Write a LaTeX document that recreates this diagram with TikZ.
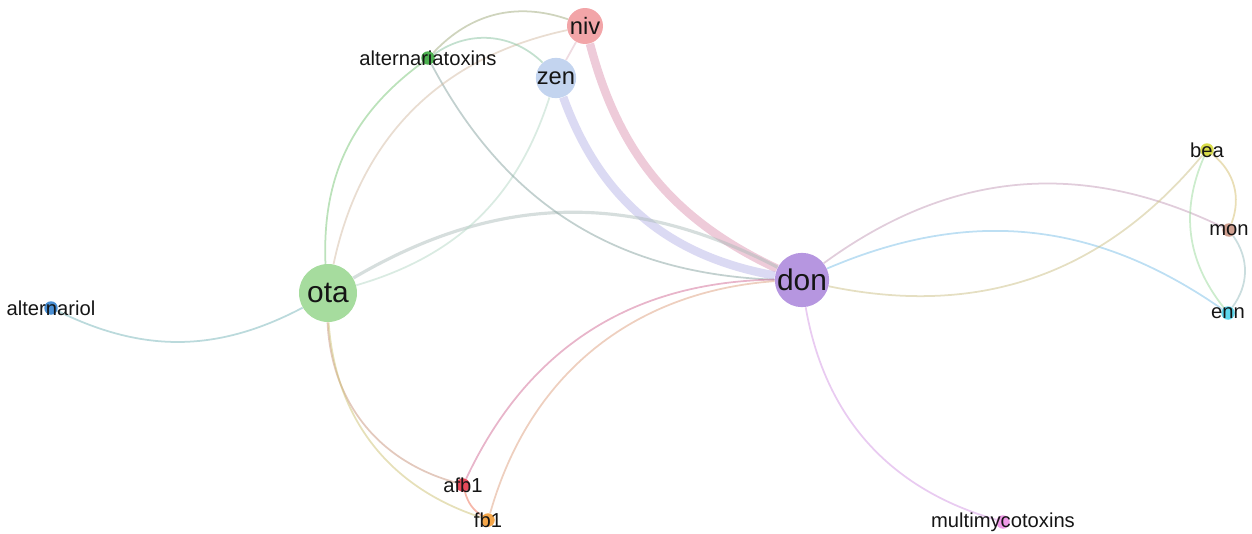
\documentclass[tikz,border=0pt]{standalone}
\usepackage{fontspec}
\setmainfont{Liberation Sans}
\usetikzlibrary{backgrounds}

\definecolor{nivcol}{HTML}{F2A5A8}
\definecolor{zencol}{HTML}{C3D4EF}
\definecolor{otacol}{HTML}{A6DC9E}
\definecolor{doncol}{HTML}{B696E0}
\definecolor{altxcol}{HTML}{4CB050}
\definecolor{altcol}{HTML}{4A8FD4}
\definecolor{beacol}{HTML}{D9DC4A}
\definecolor{moncol}{HTML}{D0A090}
\definecolor{enncol}{HTML}{5CD6EC}
\definecolor{afbcol}{HTML}{E84A5A}
\definecolor{fbcol}{HTML}{F4A64A}
\definecolor{multicol}{HTML}{F09AE8}
\definecolor{txtcol}{HTML}{151515}

\begin{document}
\begin{tikzpicture}[x=0.02cm,y=-0.02cm,
    bub/.style={circle,inner sep=0pt,text=txtcol},
    dot/.style={circle,inner sep=0pt,minimum size=0.27cm},
    lbl/.style={inner sep=0pt,text=txtcol,font=\fontsize{11.5}{13}\selectfont},
    edge/.style={line width=1pt,draw opacity=0.5},
    fat/.style={line width=4.8pt,draw opacity=0.55}]
    \useasboundingbox (0,0) rectangle (1252,534);

    % big keywords
    \node[bub,fill=otacol,minimum size=1.16cm,font=\fontsize{17}{19}\selectfont] (ota) at (328,293) {ota};
    \node[bub,fill=doncol,minimum size=1.08cm,font=\fontsize{17}{19}\selectfont] (don) at (802,280) {don};
    \node[bub,fill=nivcol,minimum size=0.72cm,font=\fontsize{13.5}{15}\selectfont] (niv) at (585,26) {niv};
    \node[bub,fill=zencol,minimum size=0.76cm,font=\fontsize{13.5}{15}\selectfont] (zen) at (556,78) {zen};

    % small keywords, label on the dot
    \node[dot,fill=altxcol] (altx) at (428,58) {};
    \node[lbl] (altx-t) at (altx) {alternariatoxins};
    \node[dot,fill=altcol] (altol) at (51,308) {};
    \node[lbl] (altol-t) at (altol) {alternariol};
    \node[dot,fill=beacol] (bea) at (1207,150) {};
    \node[lbl] (bea-t) at (bea) {bea};
    \node[dot,fill=moncol] (mon) at (1229,230) {};
    \node[lbl] (mon-t) at (mon) {mon};
    \node[dot,fill=enncol] (enn) at (1228,313) {};
    \node[lbl] (enn-t) at (enn) {enn};
    \node[dot,fill=afbcol] (afb) at (463,485) {};
    \node[lbl] (afb-t) at (afb) {afb1};
    \node[dot,fill=fbcol] (fb) at (488,520) {};
    \node[lbl] (fb-t) at (fb) {fb1};
    \node[dot,fill=multicol] (multi) at (1003,522) {};
    \node[lbl] (multi-t) at (multi) {multimycotoxins};

    \begin{scope}[on background layer]
    % strong links
    \draw[fat,draw=nivcol!70!doncol] (niv) to[bend right=25] (don);
    \draw[fat,draw=zencol!60!doncol] (zen) to[bend right=30] (don);
    \draw[edge,line width=1.8pt,draw=otacol!55!doncol] (ota) to[bend left=29] (don);

    % top group
    \draw[edge,draw=otacol!50!zencol] (ota) to[bend right=28] (zen);
    \draw[edge,draw=altxcol!45!doncol] (altx) to[bend right=30] (don);
    \draw[edge,draw=otacol!50!altxcol] (ota) to[bend left=28] (altx);
    \draw[edge,draw=altxcol!50!nivcol] (altx) to[bend left=33] (niv);
    \draw[edge,draw=otacol!40!nivcol] (ota) to[bend left=33] (niv);
    \draw[edge,draw=altxcol!50!zencol] (altx) to[bend left=40] (zen);
    \draw[edge,draw=nivcol!60!zencol] (niv) -- (zen);

    % bottom left
    \draw[edge,draw=otacol!50!afbcol] (ota) to[bend right=36] (afb);
    \draw[edge,draw=otacol!50!fbcol] (ota) to[bend right=34] (fb);
    \draw[edge,draw=afbcol!60!fbcol] (afb) to[bend right=20] (fb);
    \draw[edge,draw=afbcol!55!doncol] (afb) to[bend left=32] (don);
    \draw[edge,draw=fbcol!65!doncol] (fb) to[bend left=35] (don);
    \draw[edge,draw=altcol!50!otacol] (altol) to[bend right=27] (ota);
    \draw[edge,draw=doncol!50!multicol] (don) to[bend right=32] (multi);

    % right group
    \draw[edge,draw=doncol!50!moncol] (don) to[bend left=31] (mon);
    \draw[edge,draw=doncol!35!enncol] (don) to[bend left=29] (enn);
    \draw[edge,draw=doncol!40!beacol] (don) to[bend right=31] (bea);
    \draw[edge,draw=beacol!50!moncol] (bea) to[bend left=36] (mon);
    \draw[edge,draw=beacol!50!enncol] (bea) to[bend right=31] (enn);
    \draw[edge,draw=moncol!50!enncol] (mon) to[bend left=36] (enn);
    \end{scope}
\end{tikzpicture}
\end{document}
